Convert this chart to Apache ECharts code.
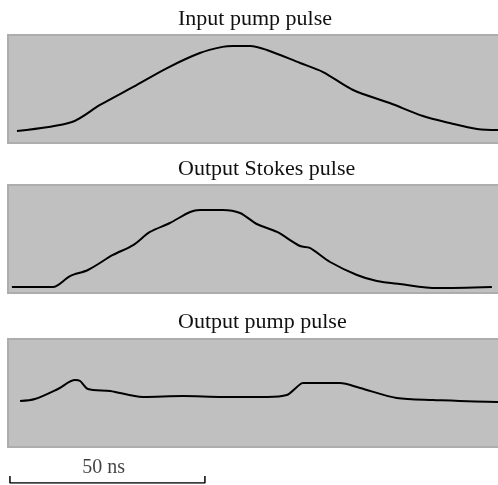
<!DOCTYPE html>
<html>
<head>
<meta charset="utf-8">
<script src="https://cdn.jsdelivr.net/npm/echarts@6/dist/echarts.min.js"></script>
<style>
  html, body { margin: 0; padding: 0; background: #fff; }
  #chart { width: 498px; height: 485px; }
</style>
</head>
<body>
<div id="chart"></div>
<script>
// time in ns, amplitude in arbitrary units (0-100 of panel height)
var panelTitles = ['Input pump pulse', 'Output Stokes pulse', 'Output pump pulse']

var inputPump = [
  [2.3, 11.1], [16.4, 19.4], [23.6, 35.2], [32.1, 51.9], [40.8, 69.4],
  [49.2, 83.3], [55.0, 89.0], [57.7, 89.8], [62.1, 89.8], [66.4, 86.1],
  [74.9, 74.1], [80.8, 65.7], [88.5, 49.1], [97.9, 37.0], [106.4, 25.0],
  [113.3, 18.5], [120.3, 13.0], [125.6, 12.0], [128, 12.0]
]

var outputStokes = [
  [1.0, 5.6], [11.5, 5.6], [15.9, 15.7], [20.5, 21.3], [26.9, 35.2],
  [32.1, 44.4], [36.4, 56.5], [41.5, 64.8], [46.7, 75.0], [49.2, 76.9],
  [55.1, 76.9], [59.5, 74.1], [63.8, 63.9], [69.0, 56.5], [74.9, 43.5],
  [77.4, 41.7], [82.6, 28.7], [89.5, 16.7], [94.6, 11.1], [100.5, 8.3],
  [110.0, 4.6], [124.1, 5.6]
]

var outputPump = [
  [3.1, 42.6], [6.9, 44.4], [12.8, 53.7], [17.2, 62.0], [18.5, 61.1],
  [20.5, 53.7], [26.2, 51.9], [34.6, 46.3], [44.9, 47.2], [55.1, 46.3],
  [66.4, 46.3], [71.5, 48.1], [74.1, 55.6], [75.6, 59.3], [85.1, 59.3],
  [90.3, 54.6], [99.7, 45.4], [109.0, 43.5], [125.4, 41.7], [128, 41.7]
]

var scaleStart = 0.5
var scaleLength = 50
var scaleLabel = '50 ns'

var xMax = 127.2
var serif = "'Liberation Serif', 'DejaVu Serif', serif"

var chart = echarts.init(document.getElementById('chart'))

var panelTops = [35, 185, 339]
var titleTops = [3, 153, 306]
var grids = [], xAxes = [], yAxes = [], titles = [], series = []

var curves = [inputPump, outputStokes, outputPump]

for (var i = 0; i < 3; i++) {
  grids.push({
    left: 8, width: 496, top: panelTops[i], height: 108, outerBoundsMode: 'none',
    show: true, backgroundColor: '#c0c0c0', borderColor: '#adadad', borderWidth: 2
  })
  xAxes.push({ type: 'value', gridIndex: i, min: 0, max: xMax, show: false })
  yAxes.push({ type: 'value', gridIndex: i, min: 0, max: 100, show: false })
  titles.push({
    text: panelTitles[i], left: 173, top: titleTops[i],
    textStyle: { fontFamily: serif, fontSize: 22, fontWeight: 'normal', color: '#111' }
  })
  series.push({
    type: 'line', xAxisIndex: i, yAxisIndex: i, data: curves[i],
    smooth: 0.3, symbol: 'none', silent: true,
    lineStyle: { color: '#000', width: 2 }
  })
}

// scale bar
grids.push({ left: 8, width: 496, top: 476, height: 7, outerBoundsMode: 'none' })
xAxes.push({ type: 'value', gridIndex: 3, min: 0, max: xMax, show: false })
yAxes.push({ type: 'value', gridIndex: 3, min: 0, max: 1, show: false })
series.push({
  type: 'line', xAxisIndex: 3, yAxisIndex: 3, symbol: 'none', silent: true,
  data: [[scaleStart, 1], [scaleStart, 0], [scaleStart + scaleLength, 0], [scaleStart + scaleLength, 1]],
  lineStyle: { color: '#000', width: 1.5 }
})
series.push({
  type: 'scatter', xAxisIndex: 3, yAxisIndex: 3, symbolSize: 0, silent: true,
  data: [[scaleStart + scaleLength / 2 - 1, 1]],
  label: {
    show: true, position: 'top', distance: -2, formatter: scaleLabel,
    fontFamily: serif, fontSize: 20, color: '#111'
  }
})

chart.setOption({
  animation: false,
  title: titles,
  grid: grids,
  xAxis: xAxes,
  yAxis: yAxes,
  series: series
})
</script>
</body>
</html>
